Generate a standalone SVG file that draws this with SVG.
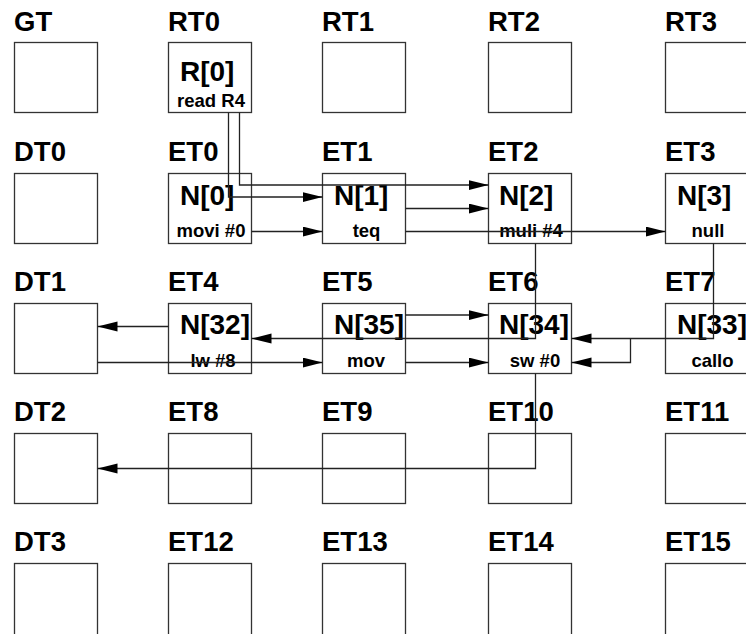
<svg xmlns="http://www.w3.org/2000/svg" width="746" height="634" viewBox="0 0 746 634">
<style>
.box{fill:#fff;stroke:#333;stroke-width:1.3}
.lbl{font-family:"Liberation Sans",Arial,sans-serif;font-weight:bold;font-size:27.5px;fill:#000}
.big{font-family:"Liberation Sans",Arial,sans-serif;font-weight:bold;font-size:28px;fill:#000}
.sm{font-family:"Liberation Sans",Arial,sans-serif;font-weight:bold;font-size:18.5px;fill:#000;text-anchor:middle}
.ln{fill:none;stroke:#222;stroke-width:1.3}
.ar{marker-end:url(#ah)}
</style>
<defs>
<marker id="ah" markerUnits="userSpaceOnUse" markerWidth="22" markerHeight="12" refX="20" refY="5" orient="auto">
<path d="M0,0 L20,5 L0,10 z" fill="#000"/>
</marker>
</defs>
<g id="GT"><text class="lbl" x="14" y="30.5">GT</text><rect class="box" x="14.5" y="42.5" width="83" height="70"/></g>
<g id="RT0"><text class="lbl" x="168" y="30.5">RT0</text><rect class="box" x="168.5" y="42.5" width="83" height="70"/><text class="big" x="180" y="81">R[0]</text><text class="sm" x="211" y="106.5">read R4</text></g>
<g id="RT1"><text class="lbl" x="322" y="30.5">RT1</text><rect class="box" x="322.5" y="42.5" width="83" height="70"/></g>
<g id="RT2"><text class="lbl" x="488" y="30.5">RT2</text><rect class="box" x="488.5" y="42.5" width="83" height="70"/></g>
<g id="RT3"><text class="lbl" x="665" y="30.5">RT3</text><rect class="box" x="665.5" y="42.5" width="83" height="70"/></g>

<g id="DT0"><text class="lbl" x="14" y="161">DT0</text><rect class="box" x="14.5" y="173.5" width="83" height="70"/></g>
<g id="ET0"><text class="lbl" x="168" y="161">ET0</text><rect class="box" x="168.5" y="173.5" width="83" height="70"/><text class="big" x="180" y="205">N[0]</text><text class="sm" x="211" y="237">movi #0</text></g>
<g id="ET1"><text class="lbl" x="322" y="161">ET1</text><rect class="box" x="322.5" y="173.5" width="83" height="70"/><text class="big" x="334" y="205">N[1]</text><text class="sm" x="366.5" y="237">teq</text></g>
<g id="ET2"><text class="lbl" x="488" y="161">ET2</text><rect class="box" x="488.5" y="173.5" width="83" height="70"/><text class="big" x="499" y="205">N[2]</text><text class="sm" x="531" y="237">muli #4</text></g>
<g id="ET3"><text class="lbl" x="665" y="161">ET3</text><rect class="box" x="665.5" y="173.5" width="83" height="70"/><text class="big" x="677" y="205">N[3]</text><text class="sm" x="708" y="237">null</text></g>

<g id="DT1"><text class="lbl" x="14" y="291">DT1</text><rect class="box" x="14.5" y="303.5" width="83" height="70"/></g>
<g id="ET4"><text class="lbl" x="168" y="291">ET4</text><rect class="box" x="168.5" y="303.5" width="83" height="70"/><text class="big" x="180" y="334">N[32]</text><text class="sm" x="213" y="367">lw #8</text></g>
<g id="ET5"><text class="lbl" x="322" y="291">ET5</text><rect class="box" x="322.5" y="303.5" width="83" height="70"/><text class="big" x="334" y="334">N[35]</text><text class="sm" x="366" y="367">mov</text></g>
<g id="ET6"><text class="lbl" x="488" y="291">ET6</text><rect class="box" x="488.5" y="303.5" width="83" height="70"/><text class="big" x="499" y="334">N[34]</text><text class="sm" x="535" y="367">sw #0</text></g>
<g id="ET7"><text class="lbl" x="665" y="291">ET7</text><rect class="box" x="665.5" y="303.5" width="83" height="70"/><text class="big" x="677" y="334">N[33]</text><text class="sm" x="712.5" y="367">callo</text></g>

<g id="DT2"><text class="lbl" x="14" y="421">DT2</text><rect class="box" x="14.5" y="433.5" width="83" height="70"/></g>
<g id="ET8"><text class="lbl" x="168" y="421">ET8</text><rect class="box" x="168.5" y="433.5" width="83" height="70"/></g>
<g id="ET9"><text class="lbl" x="322" y="421">ET9</text><rect class="box" x="322.5" y="433.5" width="83" height="70"/></g>
<g id="ET10"><text class="lbl" x="488" y="421">ET10</text><rect class="box" x="488.5" y="433.5" width="83" height="70"/></g>
<g id="ET11"><text class="lbl" x="665" y="421">ET11</text><rect class="box" x="665.5" y="433.5" width="83" height="70"/></g>

<g id="DT3"><text class="lbl" x="14" y="551">DT3</text><rect class="box" x="14.5" y="563.5" width="83" height="75"/></g>
<g id="ET12"><text class="lbl" x="168" y="551">ET12</text><rect class="box" x="168.5" y="563.5" width="83" height="75"/></g>
<g id="ET13"><text class="lbl" x="322" y="551">ET13</text><rect class="box" x="322.5" y="563.5" width="83" height="75"/></g>
<g id="ET14"><text class="lbl" x="488" y="551">ET14</text><rect class="box" x="488.5" y="563.5" width="83" height="75"/></g>
<g id="ET15"><text class="lbl" x="665" y="551">ET15</text><rect class="box" x="665.5" y="563.5" width="83" height="75"/></g>

<g id="connectors">
<path class="ln ar" d="M228.5,112.5 V197 H322.5"/>
<path class="ln ar" d="M239.5,112.5 V185 H488.5"/>
<path class="ln ar" d="M251.5,231.5 H322.5"/>
<path class="ln ar" d="M405.5,208.5 H488.5"/>
<path class="ln ar" d="M405.5,231.5 H665.5"/>
<path class="ln ar" d="M535.5,243.5 V338.5 H251.5"/>
<path class="ln ar" d="M713.5,243.5 V338.5 H571.5"/>
<path class="ln ar" d="M630.5,338.5 V362.5 H571.5"/>
<path class="ln ar" d="M405.5,315 H488.5"/>
<path class="ln ar" d="M405.5,362.5 H488.5"/>
<path class="ln ar" d="M97.5,362.5 H322.5"/>
<path class="ln ar" d="M168.5,326.5 H97.5"/>
<path class="ln ar" d="M535.5,373.5 V468.5 H97.5"/>
</g>
</svg>
